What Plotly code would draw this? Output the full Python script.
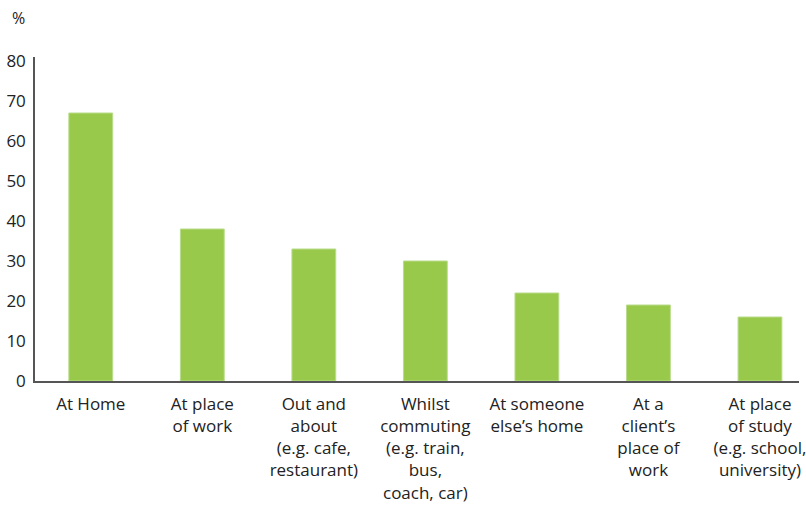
import plotly.graph_objects as go

categories = [
    "At Home",
    "At place<br>of work",
    "Out and<br>about<br>(e.g. cafe,<br>restaurant)",
    "Whilst<br>commuting<br>(e.g. train,<br>bus,<br>coach, car)",
    "At someone<br>else\u2019s home",
    "At a<br>client\u2019s<br>place of<br>work",
    "At place<br>of study<br>(e.g. school,<br>university)",
]
values = [67, 38, 33, 30, 22, 19, 16]
y_ticks = [0, 10, 20, 30, 40, 50, 60, 70, 80]

FONT = "Open Sans"
W, H = 806, 511
left, right_px = 34.5, 806
top, bottom = 57, 381

fig = go.Figure(
    go.Bar(
        x=list(range(len(categories))),
        y=values,
        marker=dict(color="#98C94B", line=dict(color="#B9DC8C", width=1)),
        width=0.393,
    )
)

fig.update_layout(
    width=W,
    height=H,
    margin=dict(l=left, r=W - right_px, t=top, b=H - bottom, pad=0),
    paper_bgcolor="white",
    plot_bgcolor="white",
    showlegend=False,
    font=dict(family=FONT, size=16, color="#222222"),
    xaxis=dict(
        range=[-0.5, 6.35],
        tickmode="array",
        tickvals=list(range(len(categories))),
        ticktext=categories,
        showgrid=False,
        zeroline=False,
        showline=True,
        linecolor="#555555",
        linewidth=1.5,
        ticks="outside",
        ticklen=7,
        tickcolor="rgba(0,0,0,0)",
        ticklabeloverflow="allow",
        tickfont=dict(family=FONT, size=17, color="#222222"),
        fixedrange=True,
    ),
    yaxis=dict(
        range=[0, 81],
        tickmode="array",
        tickvals=y_ticks,
        ticktext=[str(v) for v in y_ticks],
        showgrid=False,
        zeroline=False,
        showline=True,
        linecolor="#555555",
        linewidth=1.5,
        ticks="outside",
        ticklen=4,
        tickcolor="rgba(0,0,0,0)",
        tickfont=dict(family=FONT, size=17, color="#222222"),
        fixedrange=True,
    ),
    annotations=[
        dict(
            text="%",
            xref="paper",
            yref="paper",
            x=-(left - 9) / (right_px - left),
            y=1 + (top - 18) / (bottom - top),
            xanchor="left",
            yanchor="middle",
            showarrow=False,
            font=dict(family=FONT, size=16, color="#222222"),
        )
    ],
)

fig.write_html("out.html")
